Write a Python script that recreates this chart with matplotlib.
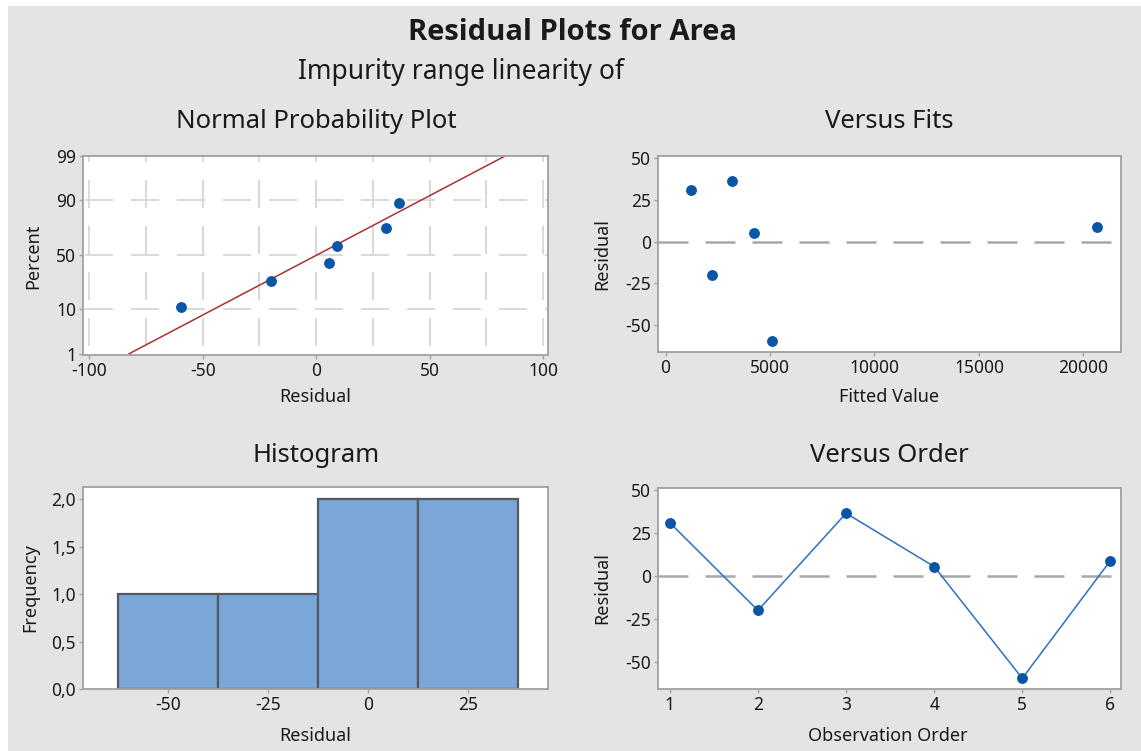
import matplotlib
matplotlib.use("Agg")
import matplotlib.pyplot as plt
from matplotlib import font_manager
from matplotlib.patches import Rectangle
from matplotlib.ticker import FuncFormatter
from statistics import NormalDist
import numpy as np

plt.rcParams['font.family'] = ['Noto Sans', 'DejaVu Sans']
plt.rcParams['axes.unicode_minus'] = False

# residuals and fitted values in observation order
observation = [1, 2, 3, 4, 5, 6]
residuals = [31, -20, 36.5, 5.5, -59.5, 9]
fitted = [1200, 2220, 3160, 4220, 5080, 20630]

hist_bins = [-62.5, -37.5, -12.5, 12.5, 37.5]
prob_ticks = [1, 10, 50, 90, 99]
prob_grid = [10, 50, 90]
resid_grid = [-100, -75, -50, -25, 0, 25, 50, 75, 100]

W, H = 1141, 751
BG = '#e4e4e4'
BLUE = '#0a56a6'
TXT = '#1a1a1a'
SPINE = '#a0a0a0'


def bold_family():
    # first installed family that actually ships a bold face
    for fam in ['Open Sans', 'Noto Sans', 'Lato', 'Roboto', 'Inter']:
        for f in font_manager.fontManager.ttflist:
            w = f.weight
            if isinstance(w, str):
                w = font_manager.weight_dict.get(w, 400)
            if f.name == fam and w >= 700:
                return fam
    return 'DejaVu Sans'


TITLE_FAM = bold_family()

fig = plt.figure(figsize=(W / 100, H / 100), dpi=100, facecolor='white')
fig.patches.append(Rectangle((8 / W, 0), 1 - 8 / W, 1 - 6 / H, transform=fig.transFigure,
                             facecolor=BG, edgecolor='none', zorder=-10))


def box(l, t, r, b):
    return [l / W, 1 - b / H, (r - l) / W, (b - t) / H]


def style(ax):
    ax.set_facecolor('white')
    for s in ax.spines.values():
        s.set_color(SPINE)
        s.set_linewidth(1.3)
    ax.tick_params(length=3, width=1, color=SPINE, labelsize=12.5, labelcolor=TXT, pad=2)


def px_text(x, y, s, **kw):
    fig.text(x / W, 1 - y / H, s, color=TXT, **kw)


def dashes(lw, dash_px, gap_px, offset_px=0):
    # dash pattern given in pixels, converted to linewidth units
    k = 0.72 / lw
    return (offset_px * k, (dash_px * k, gap_px * k))


zero_ls = dashes(1.8, 30, 17)
comma = FuncFormatter(lambda v, p: f"{v:.1f}".replace('.', ','))

# normal probability plot
nd = NormalDist()
ax1 = fig.add_axes(box(83, 156, 548, 355))
style(ax1)
n = len(residuals)
srt = np.sort(residuals)
pct = [(i + 1 - 0.3) / (n + 0.4) for i in range(n)]
zs = [nd.inv_cdf(p) for p in pct]
mu, sd = np.mean(residuals), np.std(residuals, ddof=1)
line_z = [nd.inv_cdf(0.01), nd.inv_cdf(0.99)]
line_x = [mu + sd * z for z in line_z]
ax1.set_xlim(-102.8, 102.2)
ax1.set_ylim(nd.inv_cdf(0.01) - 0.03, nd.inv_cdf(0.99) - 0.01)
ax1.set_xticks([-100, -50, 0, 50, 100])
ax1.set_yticks([nd.inv_cdf(p / 100) for p in prob_ticks])
ax1.set_yticklabels([str(p) for p in prob_ticks])
grid_kw = dict(color='#dadada', lw=1.5, zorder=0)
for gx in resid_grid:
    ax1.plot([gx, gx], [1, 0], transform=ax1.get_xaxis_transform(),
             ls=dashes(1.5, 28, 18, 22), **grid_kw)
for gp in prob_grid:
    gz = nd.inv_cdf(gp / 100)
    ax1.plot([0, 1], [gz, gz], transform=ax1.get_yaxis_transform(),
             ls=dashes(1.5, 28, 18, 44), **grid_kw)
ax1.plot(line_x, line_z, color='#a83232', lw=1.1, clip_on=False, zorder=2)
ax1.plot(srt, zs, 'o', color=BLUE, ms=6.8, zorder=3)

# versus fits
ax2 = fig.add_axes(box(658, 156, 1121, 352))
style(ax2)
ax2.set_xlim(-360, 21800)
ax2.set_ylim(-66.2, 51.4)
ax2.set_xticks([0, 5000, 10000, 15000, 20000])
ax2.set_yticks([-50, -25, 0, 25, 50])
ax2.axhline(0, color='#a8a8a8', lw=1.8, ls=zero_ls, zorder=1)
ax2.plot(fitted, residuals, 'o', color=BLUE, ms=6.8, zorder=3)

# histogram
ax3 = fig.add_axes(box(83, 487, 548, 689))
style(ax3)
ax3.hist(residuals, bins=hist_bins, color='#7ba6d8', edgecolor='#555a60', linewidth=1.6)
ax3.set_xlim(-71.3, 45.1)
ax3.set_ylim(0, 2.127)
ax3.set_xticks([-50, -25, 0, 25])
ax3.set_yticks([0, 0.5, 1.0, 1.5, 2.0])
ax3.yaxis.set_major_formatter(comma)

# versus order
ax4 = fig.add_axes(box(658, 488, 1121, 689))
style(ax4)
ax4.set_xlim(0.866, 6.12)
ax4.set_ylim(-65.7, 51.2)
ax4.set_xticks(observation)
ax4.set_yticks([-50, -25, 0, 25, 50])
ax4.axhline(0, color='#a8a8a8', lw=1.8, ls=zero_ls, zorder=1)
ax4.plot(observation, residuals, '-', color='#2f6fc0', lw=1.1, zorder=2)
ax4.plot(observation, residuals, 'o', color=BLUE, ms=6.8, zorder=3)

# titles and axis labels
px_text(572, 33, 'Residual Plots for Area', fontsize=21, fontweight='bold',
        family=[TITLE_FAM, 'DejaVu Sans'], ha='center', va='center')
px_text(298, 72, 'Impurity range linearity of', fontsize=19, ha='left', va='center')

px_text(316, 121, 'Normal Probability Plot', fontsize=18.5, ha='center', va='center')
px_text(889, 121, 'Versus Fits', fontsize=18.5, ha='center', va='center')
px_text(316, 455, 'Histogram', fontsize=18.5, ha='center', va='center')
px_text(889, 455, 'Versus Order', fontsize=18.5, ha='center', va='center')

px_text(315, 397, 'Residual', fontsize=13, ha='center', va='center')
px_text(889, 397, 'Fitted Value', fontsize=13, ha='center', va='center')
px_text(315, 736, 'Residual', fontsize=13, ha='center', va='center')
px_text(888, 736, 'Observation Order', fontsize=13, ha='center', va='center')

px_text(33, 256, 'Percent', fontsize=13, ha='center', va='center', rotation=90)
px_text(602, 254, 'Residual', fontsize=13, ha='center', va='center', rotation=90)
px_text(30, 588, 'Frequency', fontsize=13, ha='center', va='center', rotation=90)
px_text(602, 588, 'Residual', fontsize=13, ha='center', va='center', rotation=90)

fig.savefig('out.png', dpi=100, facecolor='white')
